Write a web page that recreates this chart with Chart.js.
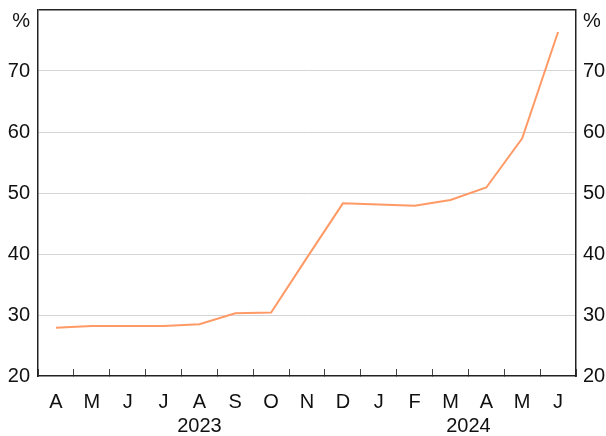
<!DOCTYPE html>
<html>
<head>
<meta charset="utf-8">
<script src="https://cdn.jsdelivr.net/npm/chart.js@4.4.0/dist/chart.umd.min.js"></script>
<style>
    html, body { margin: 0; padding: 0; background: #fff; }
    #wrap { width: 606px; height: 436px; }
</style>
</head>
<body>
<div id="wrap"><canvas id="mainChart" width="606" height="436"></canvas></div>
<script>
// Months Apr 2023 - Jun 2024
const months = ["A", "M", "J", "J", "A", "S", "O", "N", "D", "J", "F", "M", "A", "M", "J"];
const monthYears = [2023, 2023, 2023, 2023, 2023, 2023, 2023, 2023, 2023, 2024, 2024, 2024, 2024, 2024, 2024];
const shares = [27.9, 28.2, 28.2, 28.2, 28.5, 30.3, 30.4, 39.4, 48.3, 48.1, 47.9, 48.85, 50.9, 58.95, 76.4];
const yMin = 20;
const yMax = 80;
const yStep = 10;
const unitLabel = "%";

const FONT = "'Liberation Sans', Arial, sans-serif";
const FONT_SIZE = 20;
const TEXT = "#111";

// Draws the "%" unit labels and the year labels under the month letters
const extrasPlugin = {
    id: "extras",
    afterDraw(chart) {
        const ctx = chart.ctx;
        const area = chart.chartArea;
        const x = chart.scales.x;
        ctx.save();
        ctx.fillStyle = TEXT;
        ctx.font = FONT_SIZE + "px " + FONT;
        ctx.textBaseline = "middle";
        ctx.textAlign = "right";
        ctx.fillText(unitLabel, area.left - 8, area.top + 11);
        ctx.textAlign = "left";
        ctx.fillText(unitLabel, area.right + 7, area.top + 11);

        // year labels centred on each year's run of months
        ctx.textAlign = "center";
        const years = [...new Set(monthYears)];
        years.forEach(year => {
            const first = monthYears.indexOf(year);
            const last = monthYears.lastIndexOf(year);
            const cx = (x.getPixelForValue(first) + x.getPixelForValue(last)) / 2;
            ctx.fillText(String(year), cx, area.bottom + 50);
        });
        ctx.restore();
    }
};

const yTickOpts = {
    min: yMin,
    max: yMax,
    stepSize: yStep,
    color: TEXT,
    font: { family: FONT, size: FONT_SIZE },
    callback: v => (v === yMax ? "" : v)
};

// keep the plot box fixed regardless of label heights
function fitY(width) {
    return s => {
        s.width = width;
        s.paddingTop = 0;
        s.paddingBottom = 0;
    };
}

const ctx = document.getElementById("mainChart").getContext("2d");
new Chart(ctx, {
    type: "line",
    data: {
        labels: months,
        datasets: [{
            data: shares,
            borderColor: "#ff9a66",
            borderWidth: 2,
            pointRadius: 0,
            tension: 0,
            yAxisID: "y"
        }]
    },
    options: {
        responsive: false,
        animation: false,
        layout: { padding: { top: 10, left: 0, right: 0, bottom: 0 } },
        plugins: {
            legend: { display: false },
            tooltip: { enabled: false }
        },
        scales: {
            x: {
                offset: true,
                grid: {
                    offset: true,
                    drawOnChartArea: false,
                    tickLength: -7,
                    color: "#444",
                    tickWidth: 1
                },
                border: { color: "#222", width: 1.5 },
                ticks: {
                    color: TEXT,
                    font: { family: FONT, size: FONT_SIZE },
                    padding: 21,
                    autoSkip: false,
                    maxRotation: 0
                },
                afterFit: s => { s.height = 60; s.paddingLeft = 0; s.paddingRight = 0; }
            },
            y: {
                position: "left",
                min: yMin,
                max: yMax,
                grid: {
                    drawTicks: false,
                    color: c => c.tick.value === yMax ? "#222" : (c.tick.value === yMin ? "rgba(0,0,0,0)" : "#d4d4d4"),
                    lineWidth: c => c.tick.value === yMax ? 1.5 : 1
                },
                border: { color: "#222", width: 1.5 },
                ticks: Object.assign({ padding: 8 }, yTickOpts),
                afterFit: fitY(38)
            },
            y2: {
                position: "right",
                min: yMin,
                max: yMax,
                grid: { display: false, drawTicks: false },
                border: { color: "#222", width: 1.5 },
                ticks: Object.assign({ padding: 7 }, yTickOpts),
                afterFit: fitY(30)
            }
        }
    },
    plugins: [extrasPlugin]
});
</script>
</body>
</html>
